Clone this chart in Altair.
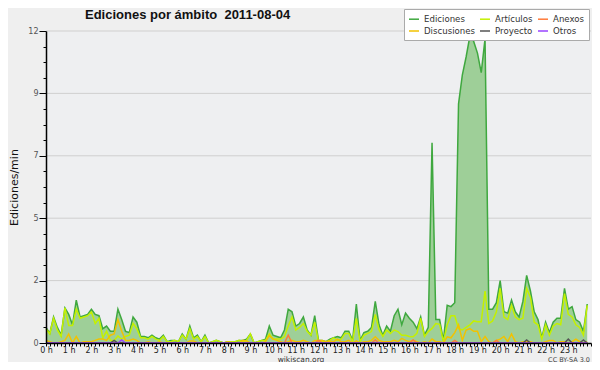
import altair as alt
import pandas as pd

# ---------------- data (10-minute bins, 144 per day) ----------------
series_names = ["Ediciones", "Artículos", "Anexos", "Discusiones", "Proyecto", "Otros"]
series_colors = ["#3fa83f", "#c4f000", "#ff7a3a", "#f2c200", "#555555", "#9944ff"]
area_color = "#9ecf98"

ediciones = [
    0.6, 0.37, 1.0, 0.6, 0.3, 1.35, 1.1, 0.7, 1.65, 1.0, 1.05, 1.1,
    1.3, 1.1, 1.05, 0.55, 0.65, 0.45, 0.45, 1.3, 0.9, 0.45, 0.4, 1.0,
    0.8, 0.25, 0.25, 0.2, 0.3, 0.2, 0.15, 0.3, 0.05, 0.1, 0.1, 0.05,
    0.35, 0.15, 0.65, 0.2, 0.3, 0.05, 0.3, 0.0, 0.05, 0.1, 0.05, 0.0,
    0.05, 0.05, 0.05, 0.1, 0.1, 0.15, 0.35, 0.0, 0.05, 0.1, 0.15, 0.65,
    0.3, 0.25, 0.2, 0.5, 1.3, 1.2, 0.65, 0.75, 1.0, 0.5, 0.3, 1.05,
    0.1, 0.1, 0.05, 0.15, 0.2, 0.25, 0.2, 0.45, 0.45, 0.1, 1.5, 0.1,
    0.4, 0.45, 0.6, 1.6, 0.7, 0.3, 0.65, 0.45, 1.05, 1.3, 0.7, 1.15,
    0.95, 0.8, 0.55, 1.0, 0.3, 0.6, 7.7, 0.9, 0.9, 0.1, 1.45, 1.4,
    1.55, 9.2, 10.3, 11.0, 11.8, 11.6, 11.15, 10.4, 11.7, 1.3, 1.3, 1.55,
    2.4, 1.2, 1.15, 1.65, 1.2, 1.0, 1.6, 2.6, 2.0, 1.2, 0.9, 0.2,
    0.8, 0.4, 0.8, 0.95, 0.95, 2.1, 1.3, 1.4, 0.9, 0.8, 0.45, 1.5,
]

articulos = [
    0.55, 0.35, 0.95, 0.5, 0.25, 1.35, 0.67, 0.67, 1.3, 0.95, 1.0, 1.05,
    1.2, 0.75, 0.95, 0.2, 0.45, 0.1, 0.1, 0.27, 0.15, 0.25, 0.3, 0.75,
    0.55, 0.2, 0.2, 0.15, 0.25, 0.15, 0.1, 0.25, 0.05, 0.05, 0.1, 0.05,
    0.3, 0.15, 0.55, 0.15, 0.25, 0.05, 0.25, 0.0, 0.05, 0.1, 0.05, 0.0,
    0.05, 0.05, 0.05, 0.1, 0.05, 0.1, 0.35, 0.0, 0.05, 0.1, 0.1, 0.35,
    0.15, 0.15, 0.15, 0.25, 0.65, 1.0, 0.5, 0.6, 0.75, 0.45, 0.3, 0.8,
    0.05, 0.05, 0.05, 0.1, 0.2, 0.1, 0.15, 0.37, 0.37, 0.05, 0.95, 0.05,
    0.3, 0.37, 0.44, 1.1, 0.5, 0.25, 0.5, 0.37, 0.5, 0.44, 0.3, 0.3,
    0.25, 0.24, 0.37, 0.95, 0.25, 0.44, 0.56, 0.75, 0.72, 0.05, 0.7, 1.05,
    1.05, 0.55, 0.5, 0.6, 0.7, 0.85, 0.82, 0.82, 2.0, 0.75, 0.85, 1.2,
    2.1, 1.0, 0.9, 1.45, 1.0, 0.9, 0.95, 2.1, 1.75, 0.8, 0.7, 0.15,
    0.7, 0.3, 0.65, 0.75, 0.7, 1.9, 1.1, 1.0, 0.7, 0.6, 0.3, 1.45,
]

discusiones = [
    0.1, 0.05, 0.0, 0.0, 0.05, 0.1, 0.35, 0.0, 0.25, 0.0, 0.05, 0.05,
    0.05, 0.1, 0.15, 0.15, 0.1, 0.3, 0.35, 0.9, 0.45, 0.1, 0.1, 0.15,
    0.1, 0.0, 0.0, 0.05, 0.0, 0.0, 0.05, 0.0, 0.0, 0.0, 0.0, 0.0,
    0.0, 0.0, 0.08, 0.08, 0.0, 0.0, 0.0, 0.0, 0.0, 0.0, 0.0, 0.0,
    0.05, 0.0, 0.0, 0.0, 0.1, 0.08, 0.0, 0.0, 0.0, 0.0, 0.05, 0.28,
    0.15, 0.1, 0.05, 0.0, 0.05, 0.1, 0.05, 0.05, 0.1, 0.05, 0.0, 0.1,
    0.1, 0.1, 0.05, 0.08, 0.05, 0.15, 0.05, 0.05, 0.1, 0.0, 0.08, 0.0,
    0.05, 0.05, 0.1, 0.24, 0.1, 0.05, 0.05, 0.05, 0.1, 0.05, 0.18, 0.1,
    0.05, 0.1, 0.05, 0.0, 0.05, 0.0, 0.15, 0.05, 0.05, 0.0, 0.24, 0.2,
    0.4, 0.7, 0.1, 0.5, 0.55, 0.45, 0.45, 0.05, 0.25, 0.05, 0.0, 0.1,
    0.15, 0.25, 0.05, 0.35, 0.05, 0.0, 0.05, 0.05, 0.05, 0.0, 0.0, 0.0,
    0.05, 0.1, 0.1, 0.0, 0.05, 0.05, 0.0, 0.05, 0.15, 0.05, 0.0, 0.05,
]

anexos = [0.0] * 144
for k, v in [(64, 0.3), (72, 0.1), (87, 0.12), (97, 0.12), (108, 0.1), (119, 0.1)]:
    anexos[k] = v
proyecto = [0.0] * 144
for k, v in [(18, 0.1), (127, 0.12), (138, 0.15), (142, 0.12)]:
    proyecto[k] = v
otros = [0.0] * 144
for k, v in [(20, 0.12)]:
    otros[k] = v

series_values = {
    "Ediciones": ediciones,
    "Artículos": articulos,
    "Discusiones": discusiones,
    "Anexos": anexos,
    "Proyecto": proyecto,
    "Otros": otros,
}
draw_order = ["Ediciones", "Artículos", "Discusiones", "Anexos", "Proyecto", "Otros"]

y_tick_values = [0, 2.4, 4.8, 7.2, 9.6, 12]
y_tick_labels = ["0", "2", "5", "7", "9", "12"]
y_minor_step = 0.6

title_text = "Ediciones por ámbito\u00a0 2011-08-04"
y_title = "Ediciones/min"

# ---------------- build frames ----------------
def frame(name):
    vals = series_values[name]
    return pd.DataFrame({"hora": [i / 6 for i in range(len(vals))],
                         "valor": vals, "serie": name})

W, H = 545, 312

x_ticks = [round(i / 6, 5) for i in range(145)]
x_label_expr = ("abs(datum.value - round(datum.value)) < 0.001 && datum.value < 23.5 "
                "? round(datum.value) + ' h' : ''")

y_ticks = [round(k * y_minor_step, 2) for k in range(21)]
major_test = "abs(datum.value / 2.4 - round(datum.value / 2.4)) < 0.001"
lab = "''"
for v, t in reversed(list(zip(y_tick_values, y_tick_labels))):
    lab = f"abs(datum.value - {v}) < 0.01 ? '{t}' : ({lab})"

x_axis = alt.Axis(values=x_ticks, labelExpr=x_label_expr, title=None, grid=False,
                  tickSize=3, tickColor="#000", tickWidth=1, domainColor="#000",
                  domainWidth=1.5, labelFont="DejaVu Sans", labelFontSize=8,
                  labelColor="#222", labelPadding=0, labelOverlap=False,
                  labelFlush=False, labelBound=False, zindex=1)
y_axis = alt.Axis(values=y_ticks, labelExpr=lab, title=y_title,
                  titleFont="DejaVu Sans", titleFontSize=11, titleFontWeight="normal",
                  titleColor="#111", titleAngle=270, titleX=-29, titleY=H / 2,
                  titleAlign="center", titleBaseline="alphabetic",
                  grid=False,
                  tickSize={"condition": {"test": major_test, "value": 7}, "value": 3},
                  tickColor="#000", domainColor="#000", domainWidth=1.5,
                  labelFont="DejaVu Sans", labelFontSize=8, labelColor="#555",
                  labelPadding=1, labelOverlap=False, zindex=1)

x_enc = alt.X("hora:Q", scale=alt.Scale(domain=[0, 24], nice=False, zero=False), axis=x_axis)
y_enc = alt.Y("valor:Q", scale=alt.Scale(domain=[0, 12], nice=False), axis=y_axis)
color_enc = alt.Color(
    "serie:N",
    scale=alt.Scale(domain=series_names, range=series_colors),
    legend=alt.Legend(title=None, orient="none", legendX=358, legendY=-22, columns=3,
                      direction="horizontal",
                      symbolType="stroke", symbolSize=100, symbolStrokeWidth=1.5,
                      labelFont="DejaVu Sans", labelFontSize=8.6, labelColor="#333",
                      fillColor="#ffffff", strokeColor="#aaaaaa", padding=4,
                      rowPadding=1, columnPadding=2, labelOffset=4),
)

grid_df = pd.DataFrame({"valor": y_tick_values[1:]})
grid = alt.Chart(grid_df).mark_rule(color="#cfcfcf", strokeWidth=1).encode(
    y=alt.Y("valor:Q", scale=alt.Scale(domain=[0, 12], nice=False), axis=y_axis),
    x=alt.value(0), x2=alt.value(W))

area = alt.Chart(frame("Ediciones")).mark_area(color=area_color, opacity=1, interpolate="linear").encode(
    x=x_enc, y=y_enc)

lines = []
for name in draw_order:
    lines.append(alt.Chart(frame(name)).mark_line(strokeWidth=1.5, interpolate="linear").encode(
        x=x_enc, y=y_enc, color=color_enc))

one = pd.DataFrame({"k": [0]})
title_mark = alt.Chart(one).mark_text(text=title_text, font="Liberation Sans", fontSize=13,
                                      fontWeight="bold", color="#111", align="left",
                                      baseline="alphabetic").encode(
    x=alt.value(39), y=alt.value(-12.5))
credit1 = alt.Chart(one).mark_text(text="wikiscan.org", font="DejaVu Sans", fontSize=7.5,
                                   color="#333", align="center", baseline="alphabetic").encode(
    x=alt.value(255), y=alt.value(330.5))
credit2 = alt.Chart(one).mark_text(text="CC BY-SA 3.0", font="DejaVu Sans", fontSize=6.5,
                                   color="#444", align="right", baseline="alphabetic").encode(
    x=alt.value(544), y=alt.value(330.5))

chart = alt.layer(grid, area, *lines, title_mark, credit1, credit2).properties(
    width=W, height=H,
    autosize=alt.AutoSizeParams(type="none"),
    padding={"left": 38, "top": 23, "right": 1, "bottom": 19},
    background="#efefef",
).configure_view(fill="#eeeff1", stroke=None)

chart.save("out.html", embed_options={"renderer": "svg", "actions": False})
